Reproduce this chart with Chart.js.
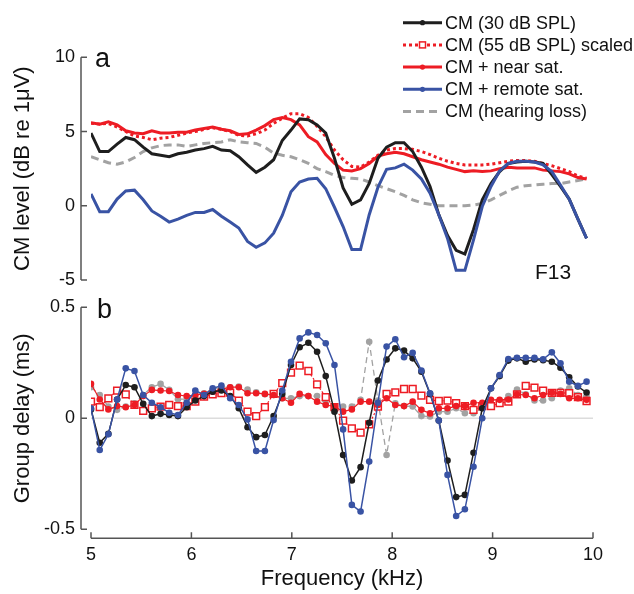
<!DOCTYPE html>
<html>
<head>
<meta charset="utf-8">
<title>CM level and group delay, F13</title>
<script src="https://cdn.jsdelivr.net/npm/chart.js@4.4.1/dist/chart.umd.min.js"></script>
<style>
  body { margin: 0; background: #fff; }
  #wrap { position: relative; width: 634px; height: 594px; }
  #levelChart { position: absolute; left: 0; top: 0; }
  #delayChart { position: absolute; left: 0; top: 290px; }
</style>
</head>
<body>
<div id="wrap">
  <canvas id="levelChart" width="634" height="290"></canvas>
  <canvas id="delayChart" width="634" height="304"></canvas>
</div>
<script>
// frequency grid shared by both panels (kHz)
const freqKHz = [
  5.000, 5.087, 5.173, 5.260, 5.346, 5.433, 5.520, 5.606, 5.693, 5.779,
  5.866, 5.953, 6.039, 6.126, 6.212, 6.299, 6.386, 6.472, 6.559, 6.645,
  6.732, 6.819, 6.905, 6.992, 7.078, 7.165, 7.252, 7.338, 7.425, 7.511,
  7.598, 7.685, 7.771, 7.858, 7.944, 8.031, 8.118, 8.204, 8.291, 8.377,
  8.464, 8.551, 8.637, 8.724, 8.810, 8.897, 8.984, 9.070, 9.157, 9.243,
  9.330, 9.417, 9.503, 9.590, 9.676, 9.763, 9.850, 9.936
];

const seriesNames = [
  "CM (30 dB SPL)",
  "CM (55 dB SPL) scaled",
  "CM + near sat.",
  "CM + remote sat.",
  "CM (hearing loss)"
];

// panel a: CM level, dB re 1 uV
const levelCm30 = [4.9, 3.65, 3.65, 4.15, 4.6, 4.45, 3.95, 3.5, 3.4, 3.3, 3.5, 3.6, 3.75, 3.85, 4.0, 3.75, 3.7, 3.3, 2.75, 2.25, 2.6, 3.1, 4.4, 5.1, 5.85, 5.8, 5.45, 4.9, 3.2, 1.2, 0.1, 0.4, 1.5, 3.2, 3.95, 4.25, 4.25, 3.65, 2.6, 1.3, -0.6, -2.0, -3.0, -3.25, -1.6, 0.4, 1.5, 2.3, 2.85, 2.95, 3.0, 2.95, 2.85, 2.1, 1.3, 0.45, -0.9, -2.2];
const levelScaled55 = [5.55, 5.5, 5.55, 5.3, 5.0, 4.7, 4.6, 4.45, 4.55, 4.6, 4.75, 4.9, 5.0, 5.15, 5.25, 5.15, 5.0, 4.75, 4.7, 4.85, 5.1, 5.55, 5.9, 6.2, 6.2, 5.95, 5.35, 4.65, 3.75, 3.1, 2.65, 2.6, 2.95, 3.4, 3.75, 3.85, 3.85, 3.8, 3.65, 3.45, 3.2, 3.0, 2.85, 2.75, 2.75, 2.75, 2.8, 2.9, 3.0, 3.05, 3.05, 3.0, 2.85, 2.7, 2.5, 2.3, 2.0, 1.85];
const levelNear = [5.6, 5.5, 5.65, 5.45, 5.05, 4.9, 4.85, 5.05, 4.9, 4.9, 4.95, 4.95, 5.1, 5.2, 5.3, 5.15, 5.05, 4.8, 4.85, 5.1, 5.4, 5.8, 5.95, 5.8, 5.45, 4.65, 4.3, 3.45, 2.85, 2.4, 2.35, 2.5, 2.85, 3.35, 3.5, 3.6, 3.5, 3.3, 3.1, 2.95, 2.8, 2.6, 2.45, 2.3, 2.35, 2.3, 2.35, 2.5, 2.6, 2.55, 2.55, 2.55, 2.4, 2.35, 2.3, 2.15, 1.9, 1.8];
const levelRemote = [0.8, -0.4, -0.4, 0.45, 1.0, 1.05, 0.4, -0.35, -0.7, -1.1, -0.9, -0.65, -0.45, -0.45, -0.25, -0.7, -1.1, -1.5, -2.4, -2.8, -2.5, -1.85, -0.65, 0.95, 1.6, 1.8, 1.85, 1.15, -0.1, -1.4, -2.95, -2.95, -0.6, 1.25, 2.45, 2.55, 2.8, 2.4, 1.8, 0.85, -0.6, -2.2, -4.35, -4.35, -2.3, -0.05, 1.3, 2.35, 2.85, 3.0, 3.0, 2.95, 2.75, 2.3, 1.4, 0.45, -0.9, -2.2];
const levelHearingLoss = [3.3, 3.1, 2.9, 2.8, 2.95, 3.25, 3.65, 3.9, 4.05, 4.1, 4.1, 4.0, 4.1, 4.2, 4.25, 4.3, 4.45, 4.3, 4.25, 4.2, 3.95, 3.55, 3.4, 3.3, 3.1, 2.85, 2.5, 2.3, 2.05, 1.9, 1.85, 1.8, 1.6, 1.35, 1.15, 0.95, 0.7, 0.4, 0.2, 0.1, 0.0, 0.0, 0.0, 0.0, 0.05, 0.15, 0.4, 0.7, 1.0, 1.25, 1.35, 1.4, 1.45, 1.5, 1.5, 1.6, 1.7, 1.8];

// panel b: group delay, ms
const delayCm30 = [0.04, -0.11, -0.07, 0.085, 0.15, 0.14, 0.065, 0.01, 0.02, 0.015, 0.01, 0.05, 0.08, 0.1, 0.12, 0.125, 0.1, 0.045, -0.04, -0.085, -0.075, 0.01, 0.11, 0.24, 0.32, 0.34, 0.3, 0.19, 0.03, -0.165, -0.28, -0.22, -0.02, 0.17, 0.265, 0.315, 0.305, 0.27, 0.21, 0.11, -0.01, -0.19, -0.355, -0.345, -0.155, 0.045, 0.135, 0.19, 0.26, 0.27, 0.255, 0.265, 0.262, 0.255, 0.228, 0.185, 0.143, 0.116];
const delayScaled55 = [0.075, 0.05, 0.09, 0.125, 0.108, 0.06, 0.033, 0.045, 0.053, 0.06, 0.055, 0.055, 0.075, 0.098, 0.108, 0.113, 0.116, 0.08, 0.03, 0.01, 0.05, 0.11, 0.158, 0.206, 0.237, 0.213, 0.153, 0.095, 0.05, -0.01, -0.045, -0.065, -0.027, 0.053, 0.11, 0.117, 0.132, 0.132, 0.102, 0.083, 0.078, 0.08, 0.068, 0.055, 0.038, 0.055, 0.055, 0.068, 0.075, 0.108, 0.146, 0.138, 0.125, 0.115, 0.115, 0.113, 0.095, 0.078];
const delayNear = [0.155, 0.085, 0.04, 0.055, 0.05, 0.06, 0.1, 0.128, 0.125, 0.123, 0.105, 0.1, 0.105, 0.11, 0.12, 0.13, 0.14, 0.14, 0.113, 0.113, 0.11, 0.105, 0.09, 0.07, 0.11, 0.1, 0.075, 0.06, 0.053, 0.03, 0.04, 0.075, 0.075, 0.06, 0.09, 0.06, 0.055, 0.075, 0.038, 0.022, 0.045, 0.045, 0.055, 0.055, 0.07, 0.07, 0.083, 0.083, 0.085, 0.108, 0.105, 0.09, 0.105, 0.115, 0.11, 0.09, 0.09, 0.083];
const delayRemote = [0.045, -0.143, -0.072, 0.085, 0.225, 0.213, 0.105, 0.07, 0.05, 0.025, 0.015, 0.07, 0.125, 0.105, 0.135, 0.147, 0.09, 0.06, -0.005, -0.147, -0.147, -0.008, 0.125, 0.255, 0.36, 0.387, 0.375, 0.338, 0.24, -0.05, -0.39, -0.42, -0.195, 0.07, 0.323, 0.356, 0.275, 0.295, 0.215, 0.113, -0.01, -0.255, -0.44, -0.41, -0.218, 0.0, 0.135, 0.195, 0.267, 0.273, 0.273, 0.272, 0.266, 0.297, 0.248, 0.165, 0.146, 0.165];
const delayHearingLoss = [0.14, 0.105, 0.053, 0.038, 0.053, 0.068, 0.105, 0.14, 0.155, 0.128, 0.086, 0.086, 0.105, 0.113, 0.128, 0.14, 0.14, 0.143, 0.13, 0.117, 0.108, 0.105, 0.09, 0.09, 0.1, 0.1, 0.1, 0.065, 0.053, 0.053, 0.053, 0.083, 0.345, 0.08, -0.165, 0.068, 0.055, 0.053, 0.01, 0.008, 0.03, 0.03, 0.045, 0.023, 0.023, 0.045, 0.053, 0.07, 0.1, 0.13, 0.108, 0.08, 0.08, 0.09, 0.125, 0.135, 0.105, 0.098];

const freqTicks = [5, 6, 7, 8, 9, 10];
const levelTicks = [-5, 0, 5, 10];
const delayTicks = [-0.5, 0, 0.5];

const BLACK = "#1e1e1e";
const RED = "#ed1c24";
const BLUE = "#3953a4";
const GREY = "#a2a2a2";
const AXIS = "#555555";
const FONT = '"Liberation Sans", Arial, Helvetica, sans-serif';

const pts = (arr) => freqKHz.map((f, i) => ({ x: f, y: arr[i] }));

// legend sample for each series, same order as seriesNames
const legendStyles = [
  { color: BLACK, dash: [], marker: "dot" },
  { color: RED, dash: [3, 3], marker: "square" },
  { color: RED, dash: [], marker: "dot" },
  { color: BLUE, dash: [], marker: "dot" },
  { color: GREY, dash: [8, 5], marker: null },
];

// MATLAB style axes: y axis pulled 10px left of the data, x axis 9px below,
// ticks pointing inwards
const offsetAxes = {
  id: "offsetAxes",
  afterDraw(chart, args, opts) {
    const { ctx, chartArea, scales } = chart;
    const y = scales.y;
    const ax = chartArea.left - 10;
    ctx.save();
    ctx.strokeStyle = AXIS;
    ctx.lineWidth = 1.5;
    ctx.beginPath();
    ctx.moveTo(ax, y.getPixelForValue(y.max));
    ctx.lineTo(ax, y.getPixelForValue(y.min));
    y.ticks.forEach((t) => {
      const py = y.getPixelForValue(t.value);
      ctx.moveTo(ax, py);
      ctx.lineTo(ax + 6, py);
    });
    if (opts.xAxis) {
      const x = scales.x;
      const ay = chartArea.bottom + 9;
      ctx.moveTo(x.getPixelForValue(x.min), ay);
      ctx.lineTo(x.getPixelForValue(x.max), ay);
      x.ticks.forEach((t) => {
        const px = x.getPixelForValue(t.value);
        ctx.moveTo(px, ay);
        ctx.lineTo(px, ay - 6);
      });
    }
    ctx.stroke();
    ctx.restore();
  },
};

const zeroLine = {
  id: "zeroLine",
  beforeDatasetsDraw(chart, args, opts) {
    if (!opts.show) return;
    const { ctx, chartArea, scales } = chart;
    const py = scales.y.getPixelForValue(0);
    ctx.save();
    ctx.strokeStyle = "#dcdcdc";
    ctx.lineWidth = 1.5;
    ctx.beginPath();
    ctx.moveTo(chartArea.left, py);
    ctx.lineTo(chartArea.right, py);
    ctx.stroke();
    ctx.restore();
  },
};

// panel letter, corner note and the legend
const panelText = {
  id: "panelText",
  afterDraw(chart, args, opts) {
    const ctx = chart.ctx;
    ctx.save();
    ctx.fillStyle = "#111";
    ctx.textBaseline = "alphabetic";
    ctx.textAlign = "left";
    ctx.font = "27px " + FONT;
    ctx.fillText(opts.letter, opts.letterX, opts.letterY);
    if (opts.note) {
      ctx.font = "21px " + FONT;
      ctx.fillText(opts.note, 535, 279);
    }
    if (opts.legend) {
      seriesNames.forEach((name, k) => {
        const st = legendStyles[k];
        const ly = 22.7 + 22.2 * k;
        ctx.strokeStyle = st.color;
        ctx.lineWidth = 3;
        ctx.setLineDash(st.dash);
        ctx.beginPath();
        ctx.moveTo(403, ly);
        ctx.lineTo(442, ly);
        ctx.stroke();
        ctx.setLineDash([]);
        if (st.marker === "dot") {
          ctx.fillStyle = st.color;
          ctx.beginPath();
          ctx.arc(422.5, ly, 2.6, 0, Math.PI * 2);
          ctx.fill();
        } else if (st.marker === "square") {
          ctx.fillStyle = "#fff";
          ctx.lineWidth = 1.5;
          ctx.fillRect(419.5, ly - 3, 6, 6);
          ctx.strokeRect(419.5, ly - 3, 6, 6);
        }
        ctx.fillStyle = "#111";
        ctx.font = "18px " + FONT;
        ctx.textBaseline = "middle";
        ctx.fillText(name, 445, ly + 1);
      });
    }
    ctx.restore();
  },
};

// y axis: labels pushed off the data by an invisible tick mark rather than
// ticks.padding, which would also eat into the plot height
function yScale(ticks, title) {
  return {
    min: ticks[0],
    max: ticks[ticks.length - 1],
    afterBuildTicks: (s) => { s.ticks = ticks.map((v) => ({ value: v })); },
    afterFit: (s) => { s.width = 91; },
    grid: { display: true, drawOnChartArea: false, drawTicks: true, tickLength: 16, tickColor: "rgba(0,0,0,0)" },
    border: { display: false },
    ticks: { color: "#111", padding: 0, font: { family: FONT, size: 18, lineHeight: 1 } },
    title: { display: true, text: title, color: "#111", padding: { top: 10 }, font: { family: FONT, size: 22 } },
  };
}

Chart.defaults.animation = false;

new Chart("levelChart", {
  type: "line",
  data: {
    datasets: [
      { label: seriesNames[4], data: pts(levelHearingLoss), borderColor: GREY, borderWidth: 3, borderDash: [8, 5], pointRadius: 0, order: 4 },
      { label: seriesNames[1], data: pts(levelScaled55), borderColor: RED, borderWidth: 3, borderDash: [3, 3], pointRadius: 0, order: 3 },
      { label: seriesNames[2], data: pts(levelNear), borderColor: RED, borderWidth: 3, pointRadius: 0, order: 2 },
      { label: seriesNames[0], data: pts(levelCm30), borderColor: BLACK, borderWidth: 3, pointRadius: 0, order: 1 },
      { label: seriesNames[3], data: pts(levelRemote), borderColor: BLUE, borderWidth: 3, pointRadius: 0, order: 0 },
    ],
  },
  options: {
    responsive: false,
    layout: { padding: { left: 0, right: 41, top: 57.3, bottom: 10 } },
    scales: {
      x: { type: "linear", min: 5, max: 10, display: false },
      y: yScale(levelTicks, "CM level (dB re 1\u03BCV)"),
    },
    plugins: {
      legend: { display: false },
      tooltip: { enabled: false },
      offsetAxes: { xAxis: false },
      zeroLine: { show: false },
      panelText: { letter: "a", letterX: 95, letterY: 67, note: "F13", legend: true },
    },
  },
  plugins: [offsetAxes, zeroLine, panelText],
});

const dot = { pointRadius: 3.3, pointBorderWidth: 0, pointHoverRadius: 3.3 };

new Chart("delayChart", {
  type: "line",
  data: {
    datasets: [
      { label: seriesNames[4], data: pts(delayHearingLoss), borderColor: GREY, borderWidth: 1.3, borderDash: [6, 4], pointBackgroundColor: GREY, ...dot, order: 4 },
      { label: seriesNames[1], data: pts(delayScaled55), borderColor: RED, borderWidth: 1.2, borderDash: [2, 2], pointStyle: "rect", pointRadius: 4.8, pointBackgroundColor: "#fff", pointBorderColor: RED, pointBorderWidth: 1.5, order: 3 },
      { label: seriesNames[2], data: pts(delayNear), borderColor: RED, borderWidth: 1.2, pointBackgroundColor: RED, ...dot, order: 2 },
      { label: seriesNames[0], data: pts(delayCm30), borderColor: BLACK, borderWidth: 1.5, pointBackgroundColor: BLACK, ...dot, order: 1 },
      { label: seriesNames[3], data: pts(delayRemote), borderColor: BLUE, borderWidth: 1.5, pointBackgroundColor: BLUE, ...dot, order: 0 },
    ],
  },
  options: {
    responsive: false,
    layout: { padding: { left: 0, right: 41, top: 17.3, bottom: 0 } },
    scales: {
      x: {
        type: "linear",
        min: 5,
        max: 10,
        afterBuildTicks: (s) => { s.ticks = freqTicks.map((v) => ({ value: v })); },
        afterFit: (s) => { s.height = 64.7; },
        grid: { display: false, drawTicks: false },
        border: { display: false },
        ticks: { color: "#111", padding: 15, font: { family: FONT, size: 18 } },
        title: { display: true, text: "Frequency (kHz)", color: "#111", padding: { bottom: 2 }, font: { family: FONT, size: 22 } },
      },
      y: yScale(delayTicks, "Group delay (ms)"),
    },
    plugins: {
      legend: { display: false },
      tooltip: { enabled: false },
      offsetAxes: { xAxis: true },
      zeroLine: { show: true },
      panelText: { letter: "b", letterX: 97, letterY: 318 - 290, note: null, legend: false },
    },
  },
  plugins: [offsetAxes, zeroLine, panelText],
});
</script>
</body>
</html>
